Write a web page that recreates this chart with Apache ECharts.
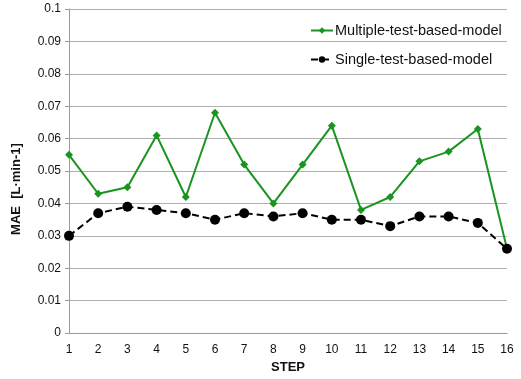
<!DOCTYPE html>
<html>
<head>
<meta charset="utf-8">
<script src="https://cdn.jsdelivr.net/npm/echarts@6/dist/echarts.min.js"></script>
<style>
  html, body { margin: 0; padding: 0; background: #fff; }
  #chart { width: 521px; height: 379px; }
</style>
</head>
<body>
<div id="chart"></div>
<script>
// Step numbers along the horizontal axis
const steps = ['1','2','3','4','5','6','7','8','9','10','11','12','13','14','15','16'];
// Mean absolute error per step, L·min-1
const multipleTestMAE = [0.055, 0.043, 0.045, 0.061, 0.042, 0.068, 0.052, 0.040,
                         0.052, 0.064, 0.038, 0.042, 0.053, 0.056, 0.063, 0.026];
const singleTestMAE   = [0.030, 0.037, 0.039, 0.038, 0.037, 0.035, 0.037, 0.036,
                         0.037, 0.035, 0.035, 0.033, 0.036, 0.036, 0.034, 0.026];
const seriesNames = ['Multiple-test-based-model', 'Single-test-based-model'];

const font = 'Liberation Sans, Arial, sans-serif';
const chart = echarts.init(document.getElementById('chart'));
chart.setOption({
  animation: false,
  backgroundColor: '#fff',
  grid: { left: 69, right: 14, top: 9, bottom: 45 },
  legend: {
    orient: 'vertical',
    left: 305,
    top: 18,
    itemGap: 14,
    itemWidth: 22,
    itemHeight: 8,
    textStyle: { fontFamily: font, fontSize: 14.5, color: '#111', padding: [0, 0, 0, -3] },
    data: seriesNames
  },
  xAxis: {
    type: 'category',
    data: steps,
    boundaryGap: false,
    name: 'STEP',
    nameLocation: 'middle',
    nameGap: 27,
    nameTextStyle: { fontFamily: font, fontSize: 13, fontWeight: 'bold', color: '#111' },
    axisLine: { lineStyle: { color: '#9a9a9a', width: 1 } },
    axisTick: { show: false },
    axisLabel: { fontFamily: font, fontSize: 12, color: '#111', margin: 11 }
  },
  yAxis: {
    type: 'value',
    min: 0,
    max: 0.1,
    interval: 0.01,
    name: 'MAE  [L·min-1]',
    nameLocation: 'middle',
    nameGap: 46,
    nameTextStyle: { fontFamily: font, fontSize: 13, fontWeight: 'bold', color: '#111', padding: [0, 36, 0, 0] },
    axisLine: { show: true, lineStyle: { color: '#9a9a9a', width: 1 } },
    axisTick: { show: true, length: 4, lineStyle: { color: '#9a9a9a' } },
    axisLabel: { fontFamily: font, fontSize: 12, color: '#111', margin: 8 },
    splitLine: { lineStyle: { color: '#b0b0b0', width: 1 } }
  },
  series: [
    {
      name: seriesNames[0],
      type: 'line',
      data: multipleTestMAE,
      symbol: 'diamond',
      symbolSize: 8,
      itemStyle: { color: '#1a9420' },
      lineStyle: { color: '#1a9420', width: 2 },
      z: 2
    },
    {
      name: seriesNames[1],
      type: 'line',
      data: singleTestMAE,
      symbol: 'circle',
      symbolSize: 10,
      itemStyle: { color: '#000' },
      lineStyle: { color: '#000', width: 2, type: [7, 4] },
      z: 3
    }
  ]
});
</script>
</body>
</html>
